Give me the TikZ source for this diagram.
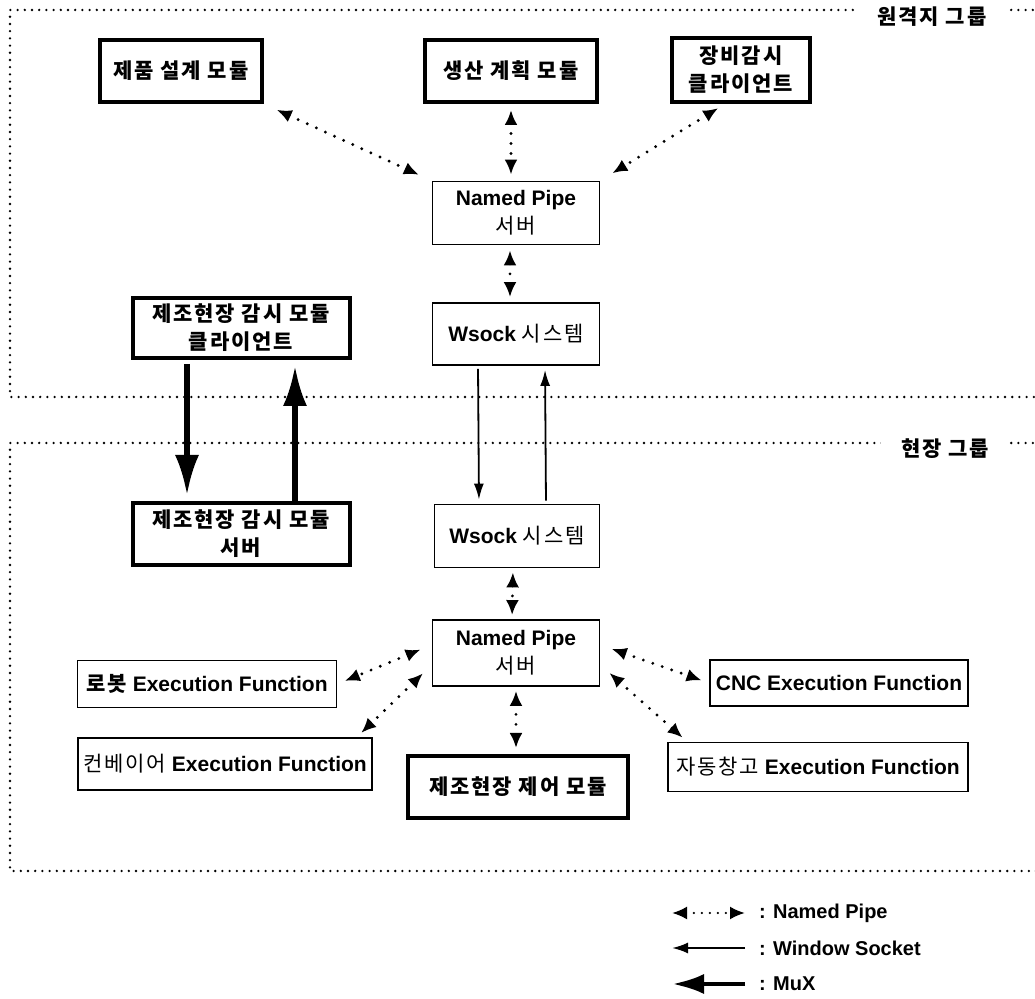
\documentclass[tikz,border=0pt]{standalone}
\usepackage{fontspec}
\setmainfont{Liberation Sans}
\newfontfamily\kr{Noto Sans CJK KR}[LetterSpace=9]
\usetikzlibrary{arrows.meta}

\begin{document}
\begin{tikzpicture}[x=0.5pt,y=-0.5pt,
    font=\fontsize{10.5}{14}\selectfont\bfseries,
    box/.style={draw,line width=0.9pt,align=center,inner sep=0pt},
    bbox/.style={box,line width=2pt},
    group/.style={line width=1.3pt,dash pattern=on 0pt off 3.6pt,line cap=round},
    pipe/.style={line width=1.6pt,dash pattern=on 0pt off 5pt,line cap=round,
        {Latex[length=7.5pt,width=6.5pt]}-{Latex[length=7.5pt,width=6.5pt]}},
    sock/.style={line width=0.9pt,-{Latex[length=8pt,width=5pt]}},
    mux/.style={line width=2.6pt,-{Latex[length=20pt,width=12pt]}}]
    \useasboundingbox (0,0) rectangle (1035,999);
    % groups
    \draw[group] (1040,10)--(10,10)--(10,397)--(1040,397);
    \draw[group] (1040,443)--(10,443)--(10,871)--(1040,871);
    \node[fill=white,inner xsep=10pt] (remote) at (932,17) {\kr 원격지 그룹};
    \node[fill=white,inner xsep=10pt] (site) at (945,449) {\kr 현장 그룹};
    % remote side
    \node[bbox,minimum width=81pt,minimum height=31pt] (pdm) at (181,71) {\kr 제품 설계 모듈};
    \node[bbox,minimum width=86pt,minimum height=31pt] (ppm) at (511,71) {\kr 생산 계획 모듈};
    \node[bbox,minimum width=69pt,minimum height=32pt] (emc) at (741,70) {\kr 장비감시\\\kr 클라이언트};
    \node[box,minimum width=83.5pt,minimum height=31.5pt] (npR) at (516,213) {Named Pipe\\\kr\mdseries 서버};
    \node[box,minimum width=83.5pt,minimum height=31pt] (wsR) at (516,334) {Wsock {\kr\mdseries 시스템}};
    \node[bbox,minimum width=108.5pt,minimum height=30pt] (mcC) at (241,328) {\kr 제조현장 감시 모듈\\\kr 클라이언트};
    % site side
    \node[bbox,minimum width=108.5pt,minimum height=31pt] (mcS) at (241,534) {\kr 제조현장 감시 모듈\\\kr 서버};
    \node[box,minimum width=82.5pt,minimum height=31.5pt] (wsL) at (517,536) {Wsock {\kr\mdseries 시스템}};
    \node[box,minimum width=83.5pt,minimum height=33pt] (npL) at (516,653) {Named Pipe\\\kr\mdseries 서버};
    \node[box,minimum width=129.5pt,minimum height=23.5pt] (robot) at (207,684) {{\kr 로봇} Execution Function};
    \node[box,minimum width=147pt,minimum height=26pt] (conv) at (225,764) {{\kr\mdseries 컨베이어} Execution Function};
    \node[bbox,minimum width=110pt,minimum height=31pt] (ctrl) at (518,787) {\kr 제조현장 제어 모듈};
    \node[box,minimum width=129pt,minimum height=23pt] (cnc) at (839,683) {CNC Execution Function};
    \node[box,minimum width=150pt,minimum height=24.5pt] (asrs) at (818,767) {{\kr\mdseries 자동창고} Execution Function};
    % named pipes
    \draw[pipe,shorten <=7pt,shorten >=7pt] (pdm.south east)--(npR.north west);
    \draw[pipe,shorten <=3pt,shorten >=3pt] (ppm.south)--(ppm.south |- npR.north);
    \draw[pipe,shorten <=4pt,shorten >=7pt] ([xshift=-8pt]emc.south)--(npR.north east);
    \draw[pipe,shorten <=2.5pt,shorten >=2.5pt] ([xshift=-3pt]npR.south)--([xshift=-3pt]wsR.north);
    \draw[pipe,shorten <=2pt,shorten >=2pt] ([xshift=-2pt]wsL.south)--([xshift=-2pt]npL.north);
    \draw[pipe,shorten <=6pt,shorten >=4pt] ([yshift=4pt]npL.west)--(robot.east);
    \draw[pipe,shorten <=6pt,shorten >=3pt] ([yshift=-6pt]npL.west)--([xshift=-8pt]conv.north east);
    \draw[pipe,shorten <=2pt,shorten >=3pt] (npL.south)--(npL.south |- ctrl.north);
    \draw[pipe,shorten <=6pt,shorten >=4pt] ([yshift=4pt]npL.east)--(cnc.west);
    \draw[pipe,shorten <=6pt,shorten >=3pt] ([yshift=-6pt]npL.east)--([xshift=10pt]asrs.north west);
    % sockets
    \draw[sock,shorten <=1.5pt,shorten >=2pt] ([xshift=-19pt]wsR.south)--([xshift=-19pt]wsL.north);
    \draw[sock,shorten <=1.5pt,shorten >=2pt] ([xshift=14.5pt]wsL.north)--([xshift=14.5pt]wsR.south);
    % mux
    \draw[mux,shorten <=2pt,shorten >=3pt] ([xshift=-27pt]mcC.south)--([xshift=-27pt]mcS.north);
    \draw[mux,shorten <=0pt,shorten >=3pt] ([xshift=27pt]mcS.north)--([xshift=27pt]mcC.south);
    % legend
    \coordinate (lgA) at (672,913);
    \coordinate (lgB) at (745,913);
    \coordinate (lgC) at (672,948);
    \coordinate (lgD) at (745,948);
    \coordinate (lgE) at (672,984);
    \coordinate (lgF) at (745,984);
    \draw[pipe,line width=1.2pt,dash pattern=on 0pt off 4pt] (lgA)--(lgB);
    \draw[sock,line width=1.1pt,-{Latex[length=8pt,width=5.5pt]}] (lgD)--(lgC);
    \draw[mux,line width=2.4pt,-{Latex[length=16pt,width=10pt]}] (lgF)--(lgE);
    \node[anchor=west,font=\fontsize{10}{12}\selectfont\bfseries] (lgNP) at (752,913) {: Named Pipe};
    \node[anchor=west,font=\fontsize{10}{12}\selectfont\bfseries] (lgWS) at (752,948) {: Window Socket};
    \node[anchor=west,font=\fontsize{10}{12}\selectfont\bfseries] (lgMX) at (752,984) {: MuX};
\end{tikzpicture}
\end{document}
